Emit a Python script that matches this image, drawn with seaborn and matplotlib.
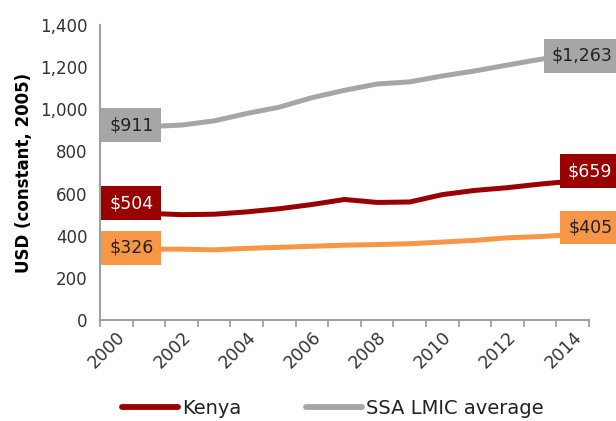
import matplotlib
matplotlib.use("Agg")
import matplotlib.pyplot as plt
import matplotlib.ticker as mticker
from matplotlib.lines import Line2D
import pandas as pd
import seaborn as sns

# values
years = list(range(2000, 2015))
kenya = [504, 506, 500, 502, 513, 528, 548, 572, 558, 560, 595, 615, 628, 645, 659]
ssa_lmic = [911, 918, 925, 945, 980, 1010, 1055, 1090, 1120, 1130, 1158, 1182, 1210, 1237, 1263]
ssa_lic = [326, 336, 336, 333, 340, 345, 350, 355, 358, 362, 370, 378, 390, 396, 405]

series_names = ["SSA LMIC average", "Kenya", "SSA LIC average"]
colors = {"Kenya": "#990000", "SSA LMIC average": "#A6A6A6", "SSA LIC average": "#F79646"}
text_colors = {"Kenya": "white", "SSA LMIC average": "#222222", "SSA LIC average": "#222222"}
# label box shifts (data units) for the start / end labels
label_shift = {"Kenya": (50, 48), "SSA LMIC average": (14, -10), "SSA LIC average": (16, 34)}

df = pd.DataFrame({
    "year": years * 3,
    "usd": ssa_lmic + kenya + ssa_lic,
    "series": [n for n in series_names for _ in years],
})

sns.set_style("white")
plt.rcParams["font.family"] = ["DejaVu Sans"]

fig = plt.figure(figsize=(6.16, 4.21), dpi=100)
ax = fig.add_axes([0.1623, 0.2399, 0.7937, 0.7007])

sns.lineplot(data=df, x="year", y="usd", hue="series", palette=colors,
             linewidth=3.6, ax=ax, legend=False)
for line in ax.lines:
    line.set_solid_capstyle("butt")

ax.set_xlim(1999.5, 2014.5)
ax.set_ylim(0, 1400)
ax.yaxis.set_major_locator(mticker.MultipleLocator(200))
ax.yaxis.set_major_formatter(mticker.FuncFormatter(lambda v, p: f"{v:,.0f}"))
ax.set_xticks(years[::2])
ax.set_xticklabels([str(y) for y in years[::2]], rotation=45, ha="right",
                   rotation_mode="anchor")
ax.set_xticks([y - 0.5 for y in years] + [years[-1] + 0.5], minor=True)
ax.tick_params(axis="x", which="major", length=0, pad=6, labelsize=12.5, labelcolor="#333333")
ax.tick_params(axis="x", which="minor", length=5, width=1.3, color="#A0A0A0", direction="out")
ax.tick_params(axis="y", length=5, width=1.3, color="#A0A0A0", direction="out",
               labelsize=12, labelcolor="#333333", pad=4)
ax.xaxis.set_tick_params(which="minor", bottom=True)

for side in ["top", "right"]:
    ax.spines[side].set_visible(False)
for side in ["left", "bottom"]:
    ax.spines[side].set_color("#A0A0A0")
    ax.spines[side].set_linewidth(1.5)

ax.set_xlabel("")
ax.set_ylabel("USD (constant, 2005)", fontsize=12, fontweight="bold", color="black",
              labelpad=5)

values = {"Kenya": kenya, "SSA LMIC average": ssa_lmic, "SSA LIC average": ssa_lic}
for name, vals in values.items():
    s0, s1 = label_shift[name]
    box = dict(boxstyle="square,pad=0.45", fc=colors[name], ec="none")
    ax.text(1999.78, vals[0] + s0, f"${vals[0]:,}", ha="left", va="center",
            fontsize=12.5, color=text_colors[name], bbox=box, zorder=5, clip_on=False)
    ax.text(2015.22, vals[-1] + s1, f"${vals[-1]:,}", ha="right", va="center",
            fontsize=12.5, color=text_colors[name], bbox=box, zorder=5, clip_on=False)

handles = [Line2D([], [], color=colors["Kenya"], lw=4.2, solid_capstyle="round"),
           Line2D([], [], color=colors["SSA LMIC average"], lw=4.2, solid_capstyle="round")]
fig.legend(handles, ["Kenya", "SSA LMIC average"], loc="center",
           bbox_to_anchor=(0.54, 0.03), ncol=2, frameon=False, fontsize=14,
           handlelength=2.9, handletextpad=0.2, columnspacing=3.3,
           labelcolor="#222222")

fig.savefig("out.png", dpi=100)
